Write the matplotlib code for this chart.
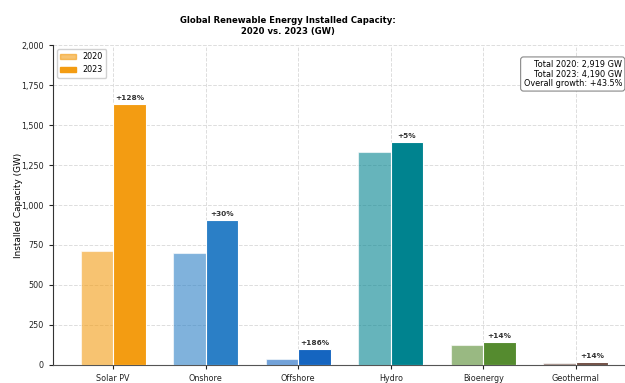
import numpy as np
import matplotlib
matplotlib.use('Agg')
import matplotlib.pyplot as plt
from matplotlib.ticker import FuncFormatter

# Installed capacity by technology (GW)
categories = ['Solar PV', 'Onshore\nWind', 'Offshore\nWind', 'Hydro', 'Bioenergy', 'Geothermal']
cap_2020 = [715, 698, 35, 1331, 126, 14]
cap_2023 = [1631, 906, 100, 1393, 144, 16]
colors = ['#F39C12', '#2B7FC6', '#1565C0', '#00838F', '#558B2F', '#6D4C41']

fig = plt.figure(figsize=(6.25, 3.83), dpi=100)
ax = fig.add_axes([53 / 625, 18 / 383, 583 / 625, 320 / 383])

x = np.arange(len(categories))
w = 0.35

bars20 = ax.bar(x - w / 2, cap_2020, w, color=colors, alpha=0.6,
                edgecolor='white', linewidth=0.8, zorder=3)
bars23 = ax.bar(x + w / 2, cap_2023, w, color=colors,
                edgecolor='white', linewidth=0.8, zorder=3)

# growth labels above the 2023 bars
for b, v0, v1 in zip(bars23, cap_2020, cap_2023):
    pct = (v1 - v0) / v0 * 100
    ax.text(b.get_x() + b.get_width() / 2, v1 + 20, f'+{pct:.0f}%',
            ha='center', va='bottom', fontsize=5.3, fontweight='bold', color='#333333')

ax.set_xlim(-0.65, len(categories) - 0.35)
ax.set_ylim(0, 2000)
ax.set_yticks(np.arange(0, 2001, 250))
ax.yaxis.set_major_formatter(FuncFormatter(lambda v, p: f'{v:,.0f}'))
ax.set_xticks(x)
ax.set_xticklabels(categories)
ax.tick_params(labelsize=5.8, colors='#222222', length=3)
ax.set_ylabel('Installed Capacity (GW)', fontsize=6.4, labelpad=-1)

ax.grid(True, linestyle='--', color='#dddddd', linewidth=0.7, zorder=0)
ax.spines['top'].set_visible(False)
ax.spines['right'].set_visible(False)
ax.spines['bottom'].set_color('#555555')
ax.spines['left'].set_color('#333333')

# legend with dummy handles for the two years
h20 = plt.Rectangle((0, 0), 1, 1, color=colors[0], alpha=0.6)
h23 = plt.Rectangle((0, 0), 1, 1, color=colors[0])
ax.legend([h20, h23], ['2020', '2023'], loc='upper left', fontsize=5.8,
          framealpha=0.9, edgecolor='#cccccc')

t20 = sum(cap_2020)
t23 = sum(cap_2023)
growth = (t23 - t20) / t20 * 100
summary = f'Total 2020: {t20:,} GW\nTotal 2023: {t23:,} GW\nOverall growth: +{growth:.1f}%'
fig.text(622 / 625, 309 / 383, summary, ha='right', va='center', fontsize=5.9,
         linespacing=1.1,
         bbox=dict(boxstyle='round,pad=0.35', facecolor='white', edgecolor='#888888', linewidth=0.8))

fig.text(288 / 625, 357 / 383, 'Global Renewable Energy Installed Capacity:\n2020 vs. 2023 (GW)',
         ha='center', va='center', fontsize=6.1, fontweight='bold', linespacing=1.25)

fig.savefig('out.png', dpi=100)
